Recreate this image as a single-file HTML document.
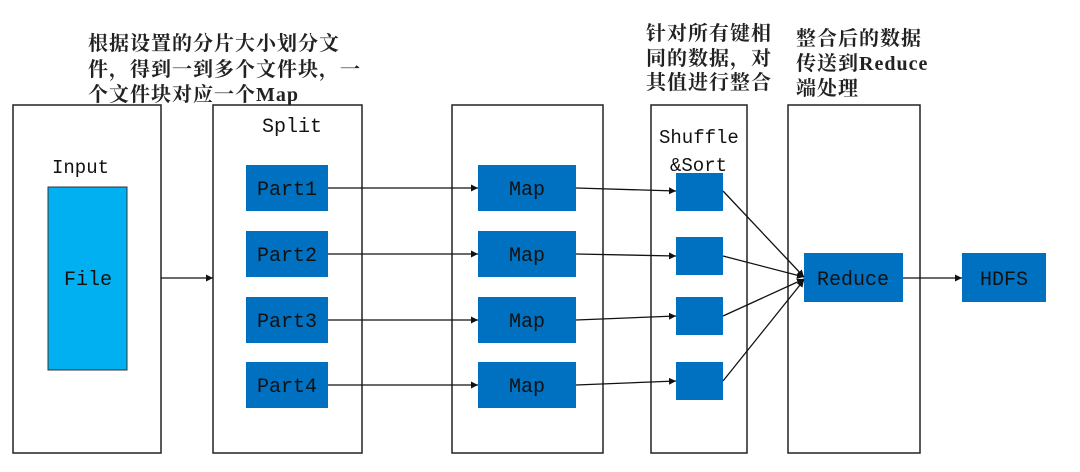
<!DOCTYPE html>
<html><head><meta charset="utf-8"><style>
body{margin:0;background:#fff;width:1080px;height:467px;overflow:hidden}
svg text{font-family:"Liberation Mono","Noto Serif CJK SC",monospace;fill:#111}
.cn{font-family:"Liberation Serif","Noto Serif CJK SC",serif;font-size:20px;font-weight:bold;fill:#222}
</style></head><body>
<svg width="1080" height="467" viewBox="0 0 1080 467">
<defs><marker id="a" markerWidth="8" markerHeight="8" refX="7" refY="4" orient="auto" markerUnits="userSpaceOnUse"><path d="M0,0.5 L7,4 L0,7.5 z" fill="#111"/></marker></defs>
<g fill="none" stroke="#222" stroke-width="1.5">
<rect x="13" y="105" width="148" height="348"/>
<rect x="213" y="105" width="149" height="348"/>
<rect x="452" y="105" width="151" height="348"/>
<rect x="651" y="105" width="96" height="348"/>
<rect x="788" y="105" width="132" height="348"/>
</g>
<text class="cn" x="88" y="50" letter-spacing="1">根据设置的分片大小划分文</text>
<text class="cn" x="88" y="76" letter-spacing="1">件，得到一到多个文件块，一</text>
<text class="cn" x="88" y="101" letter-spacing="1">个文件块对应一个Map</text>
<text class="cn" x="646" y="40" letter-spacing="1">针对所有键相</text>
<text class="cn" x="646" y="65" letter-spacing="1">同的数据，对</text>
<text class="cn" x="646" y="89" letter-spacing="1">其值进行整合</text>
<text class="cn" x="796" y="45" letter-spacing="1">整合后的数据</text>
<text class="cn" x="796" y="70" letter-spacing="1">传送到Reduce</text>
<text class="cn" x="796" y="95" letter-spacing="1">端处理</text>
<text x="52" y="173" font-size="19">Input</text>
<text x="262" y="132" font-size="20">Split</text>
<text x="659" y="143" font-size="19">Shuffle</text>
<text x="670" y="171" font-size="19">&amp;Sort</text>
<rect x="48" y="187" width="79" height="183" fill="#00b0f0" stroke="#333" stroke-width="1"/>
<text x="64" y="285" font-size="20">File</text>
<g fill="#0070c0">
<rect x="246" y="165" width="82" height="46"/><rect x="246" y="231" width="82" height="46"/><rect x="246" y="297" width="82" height="46"/><rect x="246" y="362" width="82" height="46"/>
<rect x="478" y="165" width="98" height="46"/><rect x="478" y="231" width="98" height="46"/><rect x="478" y="297" width="98" height="46"/><rect x="478" y="362" width="98" height="46"/>
<rect x="676" y="173" width="47" height="38"/><rect x="676" y="237" width="47" height="38"/><rect x="676" y="297" width="47" height="38"/><rect x="676" y="362" width="47" height="38"/>
<rect x="804" y="253" width="99" height="49"/><rect x="962" y="253" width="84" height="49"/>
</g>
<g font-size="20">
<text x="257" y="195">Part1</text><text x="257" y="261">Part2</text><text x="257" y="327">Part3</text><text x="257" y="392">Part4</text>
<text x="509" y="195">Map</text><text x="509" y="261">Map</text><text x="509" y="327">Map</text><text x="509" y="392">Map</text>
<text x="817" y="285">Reduce</text><text x="980" y="285">HDFS</text>
</g>
<g stroke="#111" stroke-width="1.3" marker-end="url(#a)">
<line x1="161" y1="278" x2="213" y2="278"/>
<line x1="328" y1="188" x2="478" y2="188"/><line x1="328" y1="254" x2="478" y2="254"/><line x1="328" y1="320" x2="478" y2="320"/><line x1="328" y1="385" x2="478" y2="385"/>
<line x1="576" y1="188" x2="676" y2="191"/><line x1="576" y1="254" x2="676" y2="256"/><line x1="576" y1="320" x2="676" y2="316"/><line x1="576" y1="385" x2="676" y2="381"/>
<line x1="723" y1="191" x2="804" y2="277"/><line x1="723" y1="256" x2="804" y2="277"/><line x1="723" y1="316" x2="804" y2="279"/><line x1="723" y1="381" x2="804" y2="280"/>
<line x1="903" y1="278" x2="962" y2="278"/>
</g>
</svg>
</body></html>
